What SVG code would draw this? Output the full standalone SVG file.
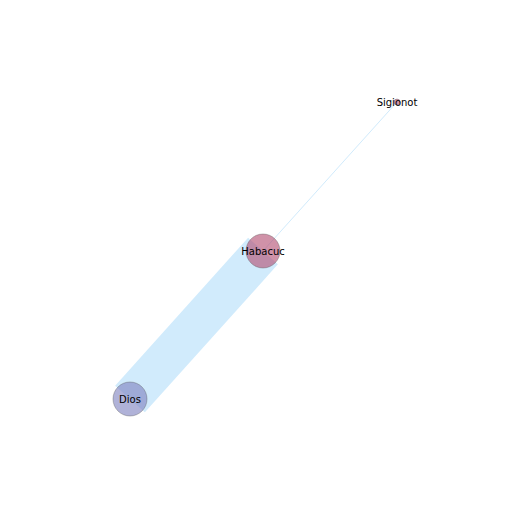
<svg xmlns="http://www.w3.org/2000/svg" width="515" height="515" viewBox="0 0 515 515">
<style>
.lbl{font-family:"DejaVu Sans",sans-serif;font-size:10px;fill:#000;text-anchor:middle;dominant-baseline:central}
.node{stroke:#555;stroke-width:0.6;stroke-opacity:0.6;fill-opacity:0.6}
.edge{stroke:#d1ebfc;fill:none;stroke-linecap:butt}
</style>
<rect width="515" height="515" fill="#fff"/>
<g id="edges">
<line class="edge" x1="263" y1="251" x2="130" y2="399" stroke-width="40"/>
<line class="edge" x1="263" y1="251" x2="397" y2="102" stroke-width="1"/>
</g>
<g id="node-Sigionot">
<circle class="node" cx="397" cy="102" r="3" fill="#b04a6e"/>
<text class="lbl" x="397" y="102">Sigionot</text>
</g>
<g id="node-Habacuc">
<circle class="node" cx="263" cy="251" r="17" fill="#b04a6e"/>
<text class="lbl" x="263" y="251">Habacuc</text>
</g>
<g id="node-Dios">
<circle class="node" cx="130" cy="399" r="17" fill="#7b7fbe"/>
<text class="lbl" x="130" y="399">Dios</text>
</g>
</svg>
